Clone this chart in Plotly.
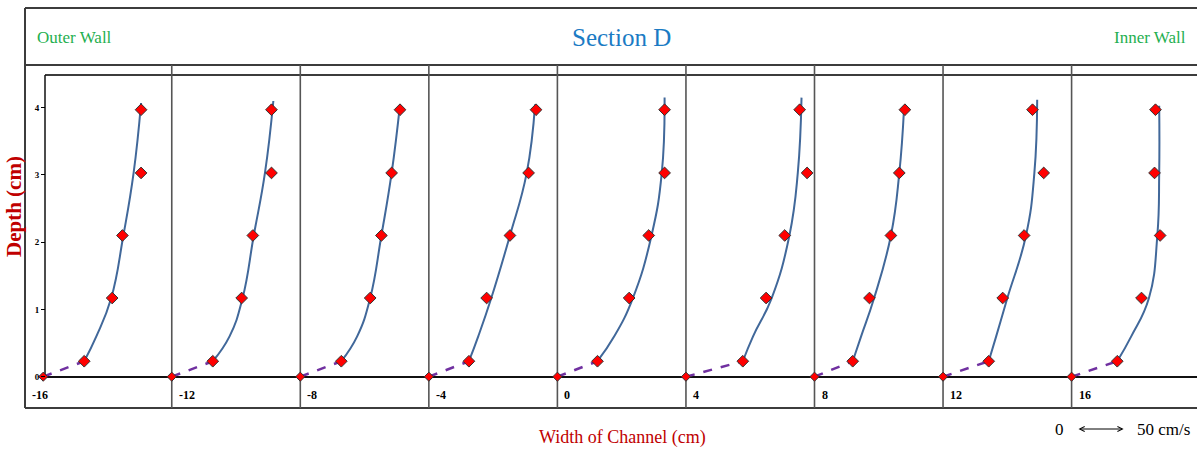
import plotly.graph_objects as go

# ---------------- data ----------------
PANELS = [-16, -12, -8, -4, 0, 4, 8, 12, 16]          # channel width positions (cm)
PANEL_LABELS = ["-16", "-12", "-8", "-4", "0", "4", "8", "12", "16"]
DEPTHS = [0.23, 1.17, 2.10, 3.03, 3.97]               # measured depths (cm)
Y_TICKS = [0, 1, 2, 3, 4]

# measured velocities (cm/s) at DEPTHS, per panel
V_M16 = [44, 74, 85, 105, 105]
V_M12 = [44, 75, 87, 107, 107]
V_M8 = [44, 75, 87, 98, 107]
V_M4 = [43, 62, 87, 107, 115]
V_0 = [43, 77, 98, 115, 115]
V_4 = [61, 86, 106, 130, 122]
V_8 = [41, 59, 82, 91, 97]
V_12 = [49, 64, 87, 108, 96]
V_16 = [49, 75, 95, 89, 90]
VELS = [V_M16, V_M12, V_M8, V_M4, V_0, V_4, V_8, V_12, V_16]

# fitted profile curve, depths then velocities
FIT_DEPTHS = [0.23, 0.6, 1.17, 2.1, 3.03]
FIT_TOP = [4.07, 4.10, 4.05, 4.05, 4.15, 4.15, 3.97, 4.12, 4.03]
F_M16 = [44, 57, 73, 86, 97, 105]
F_M12 = [44, 62, 76, 88, 100, 109]
F_M8 = [44, 61, 75, 87, 98, 107]
F_M4 = [43, 53, 67, 87, 105, 114]
F_0 = [43, 61, 81, 101, 112, 115]
F_4 = [61, 72, 92, 111, 120, 124]
F_8 = [41, 50, 64, 82, 91, 96]
F_12 = [49, 57, 69, 89, 98, 101]
F_16 = [49, 64, 83, 92, 94, 94]
FITS = [F_M16, F_M12, F_M8, F_M4, F_0, F_4, F_8, F_12, F_16]

SCALE_BAR = 50  # cm/s

# ---------------- geometry / style ----------------
W, H = 1197, 450
X_ORIGIN_PX, X_PX_PER_CM = 557.4, 32.137
Y_ORIGIN_PX, Y_PX_PER_CM = 376.7, 67.25
VEL_TO_CM = 0.932 / X_PX_PER_CM   # cm of plot width per cm/s of velocity

SERIF = "Liberation Serif"
LINE = "#3c3c3c"

def px(xp):
    return xp / W

def py(yp):
    return 1 - yp / H

fig = go.Figure()

for p, vels, fit, top in zip(PANELS, VELS, FITS, FIT_TOP):
    # dashed near-bed segment
    fig.add_trace(go.Scatter(
        x=[p, p + vels[0] * VEL_TO_CM], y=[0, DEPTHS[0]],
        mode="lines", line=dict(color="#7030A0", width=2.5, dash="dash"),
        hoverinfo="skip"))
    # fitted profile
    fig.add_trace(go.Scatter(
        x=[p + v * VEL_TO_CM for v in fit], y=FIT_DEPTHS + [top],
        mode="lines", line=dict(color="#41689A", width=2, shape="spline", smoothing=1.3),
        hoverinfo="skip"))
    # bed point
    fig.add_trace(go.Scatter(
        x=[p], y=[0], mode="markers",
        marker=dict(symbol="diamond", size=7, color="#FF0000",
                    line=dict(color="#333333", width=1))))
    # measured points
    fig.add_trace(go.Scatter(
        x=[p + v * VEL_TO_CM for v in vels], y=DEPTHS,
        mode="markers",
        marker=dict(symbol="diamond", size=9, color="#FF0000",
                    line=dict(color="#333333", width=1))))

shapes = []
def pline(x0, y0, x1, y1, w=1.8, c=LINE):
    shapes.append(dict(type="line", xref="paper", yref="paper",
                       x0=px(x0), y0=py(y0), x1=px(x1), y1=py(y1),
                       line=dict(color=c, width=w), layer="below"))

pline(25, 8, W, 8, 2)
pline(25, 8, 25, 408, 2)
pline(25, 65, W, 65, 2)
pline(25, 408, W, 408, 2)
pline(45, 75, W, 75, 1.8)
pline(45, 377, W, 377, 1.8, "#111111")
pline(45, 75, 45, 377, 1.5, "#111111")

for p in PANELS[1:]:
    shapes.append(dict(type="line", xref="x", yref="paper",
                       x0=p, x1=p, y0=py(65), y1=py(408),
                       line=dict(color="#555555", width=1.6), layer="below"))

ann = []
def text_ann(text, x, y, size, color, xanchor="center", **kw):
    d = dict(text=text, xref="paper", yref="paper", x=px(x), y=py(y),
             xanchor=xanchor, yanchor="middle", showarrow=False,
             font=dict(family=SERIF, size=size, color=color, weight=kw.pop("weight", "normal")))
    d.update(kw)
    ann.append(d)

text_ann("Section D", 621, 38, 25, "#1B7BC4")
text_ann("Outer Wall", 35, 38, 17, "#1FAF50", xanchor="left")
text_ann("Inner Wall", 1188, 38, 17, "#1FAF50", xanchor="right")
text_ann("Depth (cm)", 14, 207, 21, "#C00000", textangle=-90, weight="bold")
text_ann("Width of Channel (cm)", 622, 437, 18, "#C00000")

for i, (p, lab) in enumerate(zip(PANELS, PANEL_LABELS)):
    ann.append(dict(text=lab, x=p, xref="x", yref="paper", y=py(395),
                    xanchor="left", yanchor="middle", xshift=(-13 if i == 0 else 5),
                    showarrow=False,
                    font=dict(family=SERIF, size=12, color="black", weight="bold")))

# scale bar: 0 <-> 50 cm/s
bar_x0 = (1077 - X_ORIGIN_PX) / X_PX_PER_CM
bar_y = -(429 - Y_ORIGIN_PX) / Y_PX_PER_CM
ann.append(dict(x=bar_x0 + SCALE_BAR * VEL_TO_CM, y=bar_y, ax=bar_x0, ay=bar_y,
                xref="x", yref="y", axref="x", ayref="y", text="",
                showarrow=True, arrowhead=5, arrowside="end+start",
                arrowsize=1, arrowwidth=1, arrowcolor="black"))
ann.append(dict(text="0", x=bar_x0, y=bar_y, xref="x", yref="y", xanchor="right",
                yanchor="middle", xshift=-11, showarrow=False,
                font=dict(family=SERIF, size=17, color="black")))
ann.append(dict(text=f"{SCALE_BAR} cm/s", x=bar_x0 + SCALE_BAR * VEL_TO_CM, y=bar_y,
                xref="x", yref="y", xanchor="left", yanchor="middle", xshift=11,
                showarrow=False, font=dict(family=SERIF, size=17, color="black")))

fig.update_layout(
    width=W, height=H, margin=dict(l=0, r=0, t=0, b=0),
    paper_bgcolor="white", plot_bgcolor="white", showlegend=False,
    shapes=shapes, annotations=ann,
    xaxis=dict(range=[(0 - X_ORIGIN_PX) / X_PX_PER_CM, (W - X_ORIGIN_PX) / X_PX_PER_CM],
               visible=False, fixedrange=True),
    yaxis=dict(range=[-(H - Y_ORIGIN_PX) / Y_PX_PER_CM, Y_ORIGIN_PX / Y_PX_PER_CM],
               tickvals=Y_TICKS, ticks="outside", ticklen=4, tickcolor="black",
               showgrid=False, zeroline=False, showline=False,
               anchor="free", position=px(45),
               tickfont=dict(family=SERIF, size=9, color="black", weight="bold"),
               fixedrange=True),
)

fig.write_html("out.html", config={"displayModeBar": False},
               post_script="document.body.style.margin='0';document.body.style.padding='0';")
